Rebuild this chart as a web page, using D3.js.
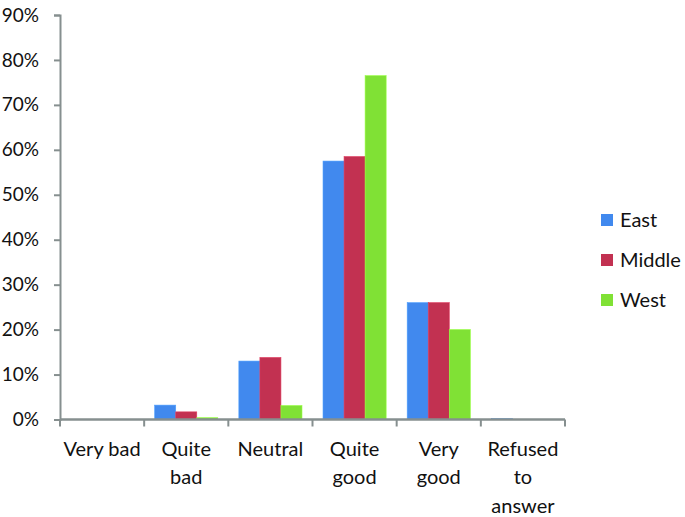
<!DOCTYPE html>
<html><head><meta charset="utf-8">
<script src="https://cdn.jsdelivr.net/npm/d3@7"></script>
<style>body{margin:0;background:#fff}svg{display:block}text{font-family:Lato,"Open Sans",sans-serif;fill:#111}</style>
</head><body><svg id="c" width="685" height="517"></svg>
<script>
const categories = [["Very bad"],["Quite","bad"],["Neutral"],["Quite","good"],["Very","good"],["Refused","to","answer"]];
const seriesNames = ["East","Middle","West"];
const east   = [0, 3.2, 13.0, 57.5, 26.0, 0.2];
const middle = [0, 1.7, 13.8, 58.5, 26.0, 0];
const west   = [0, 0.4, 3.1, 76.5, 20.0, 0];
const yTicks = [0,10,20,30,40,50,60,70,80,90];
const colors = ["#4189ee","#c23151","#80e135"];

const series = [east, middle, west];
const svg = d3.select("#c");
const pLeft = 60, pRight = 565, pTop = 15, pBottom = 419.5;
const catIdx = categories.map((d,i)=>i);
const x = d3.scaleBand().domain(catIdx).range([pLeft,pRight]).padding(0);
const xs = d3.scaleBand().domain(seriesNames).range([0,x.bandwidth()]).paddingInner(0).paddingOuter(0.5);
const y = d3.scaleLinear().domain([0,90]).range([pBottom,pTop]);
const axisColor = "#868f8f";
const fs = "20px";

// bars
catIdx.forEach(i=>{
  seriesNames.forEach((s,k)=>{
    const v = series[k][i];
    if (v<=0) return;
    svg.append("rect")
      .attr("x", x(i)+xs(s)).attr("width", xs.bandwidth())
      .attr("y", y(v)).attr("height", y(0)-y(v))
      .attr("fill", colors[k]).attr("stroke", d3.color(colors[k]).brighter(0.4)).attr("stroke-width",0.6);
  });
});

// y axis
const ya = svg.append("g").attr("transform",`translate(${pLeft},0)`)
  .call(d3.axisLeft(y).tickValues(yTicks).tickFormat(d=>d+"%").tickSize(6).tickPadding(15));
ya.select(".domain").attr("stroke",axisColor).attr("stroke-width",2);
ya.selectAll(".tick line").attr("stroke",axisColor).attr("stroke-width",2);
ya.selectAll(".tick text").style("font-size","19px").attr("fill","#111").attr("font-family","Lato");

// x axis
const xa = svg.append("g").attr("transform",`translate(0,${pBottom})`);
xa.append("line").attr("x1",pLeft).attr("x2",pRight).attr("stroke",axisColor).attr("stroke-width",2.5);
d3.range(categories.length+1).forEach(j=>{
  const px = j<categories.length ? x(j) : pRight;
  xa.append("line").attr("x1",px).attr("x2",px).attr("y1",0).attr("y2",7).attr("stroke",axisColor).attr("stroke-width",2);
});
catIdx.forEach(i=>{
  const t = xa.append("text").attr("text-anchor","middle").style("font-size",fs)
    .attr("transform",`translate(${x(i)+x.bandwidth()/2},0)`);
  categories[i].forEach((ln,j)=>{
    t.append("tspan").attr("x",0).attr("y",36+j*28.5).text(ln);
  });
});

// legend
seriesNames.forEach((s,k)=>{
  const g = svg.append("g").attr("transform",`translate(601,${220+k*40})`);
  g.append("rect").attr("x",0).attr("y",-6).attr("width",12).attr("height",12).attr("fill",colors[k]);
  g.append("text").attr("x",19).attr("y",7).style("font-size",fs).text(s);
});
</script></body></html>
